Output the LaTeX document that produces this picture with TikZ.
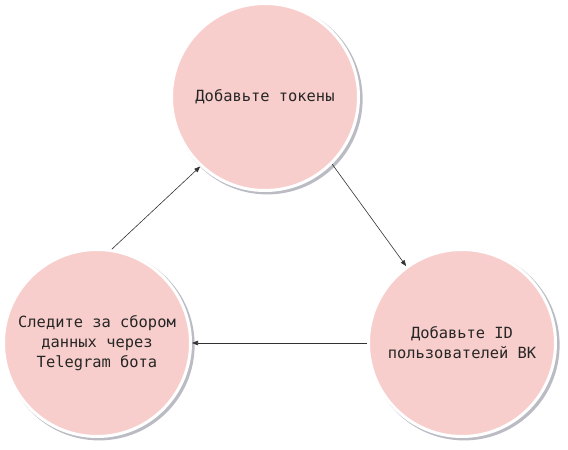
\documentclass[tikz,border=0pt]{standalone}
\usepackage{fontspec}
\setmonofont{DejaVu Sans Mono}
\usetikzlibrary{arrows.meta,shadows}
\definecolor{stagepink}{HTML}{F8CECC}
\definecolor{shadowgray}{HTML}{8E8E9E}
\definecolor{arrowgray}{HTML}{333333}
\tikzset{
  stagecircle/.style={circle, minimum size=187pt, inner sep=0pt,
    fill=stagepink, draw=white, line width=3pt,
    drop shadow={shadow xshift=2.2pt, shadow yshift=-2pt, shadow scale=1.02,
      fill=shadowgray, opacity=0.6},
    font=\ttfamily\fontsize{15.4}{20}\selectfont, align=center, text=black!85},
  flowarrow/.style={draw=arrowgray, line width=0.6pt,
    -{Triangle[length=6pt,width=4.5pt]}}
}
\begin{document}
\begin{tikzpicture}[x=1pt,y=-1pt]
\useasboundingbox (0,0) rectangle (568,450);
\fill[white] (0,0) rectangle (568,450);
\node[stagecircle] (T) at (265,97) {Добавьте токены};
\node[stagecircle] (R) at (462,343) {Добавьте ID\\пользователей ВК};
\node[stagecircle] (L) at (97,343) {Следите за сбором\\данных через\\Telegram бота};
\draw[flowarrow] (L.81) -- (T.227);
\draw[flowarrow] (T.-45) -- (R.126);
\draw[flowarrow] (R.180) -- (L.0);
\end{tikzpicture}
\end{document}
